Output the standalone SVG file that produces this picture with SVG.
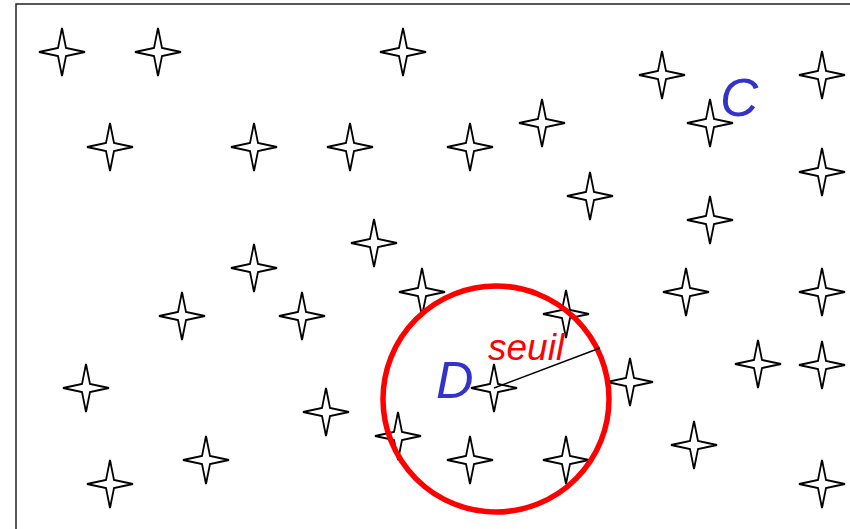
<svg xmlns="http://www.w3.org/2000/svg" xmlns:xlink="http://www.w3.org/1999/xlink" width="850" height="529" viewBox="0 0 850 529">
<style>
.star{fill:#fff;stroke:#000;stroke-width:1.8;stroke-linejoin:miter}
.lbl{font-family:"Liberation Sans",Arial,sans-serif;font-style:italic}
</style>
<defs>
<path id="s" class="star" d="M0,-24 L4,-4 L23,0 L4,4 L0,24 L-4,4 L-23,0 L-4,-4 Z"/>
</defs>
<rect width="850" height="529" fill="#fff"/>
<rect x="16" y="4" width="900" height="600" fill="none" stroke="#222" stroke-width="1.5"/>
<g id="stars">
<g id="n1"><use xlink:href="#s" x="62" y="52"/></g>
<g id="n2"><use xlink:href="#s" x="158" y="52"/></g>
<g id="n3"><use xlink:href="#s" x="403" y="52"/></g>
<g id="n4"><use xlink:href="#s" x="662" y="75"/></g>
<g id="n5"><use xlink:href="#s" x="822" y="75"/></g>
<g id="n6"><use xlink:href="#s" x="110" y="147"/></g>
<g id="n7"><use xlink:href="#s" x="254" y="147"/></g>
<g id="n8"><use xlink:href="#s" x="350" y="147"/></g>
<g id="n9"><use xlink:href="#s" x="470" y="147"/></g>
<g id="n10"><use xlink:href="#s" x="542" y="123"/></g>
<g id="n11"><use xlink:href="#s" x="710" y="123"/></g>
<g id="n12"><use xlink:href="#s" x="822" y="172"/></g>
<g id="n13"><use xlink:href="#s" x="590" y="196"/></g>
<g id="n14"><use xlink:href="#s" x="710" y="220"/></g>
<g id="n15"><use xlink:href="#s" x="374" y="243"/></g>
<g id="n16"><use xlink:href="#s" x="254" y="268"/></g>
<g id="n17"><use xlink:href="#s" x="422" y="292"/></g>
<g id="n18"><use xlink:href="#s" x="686" y="292"/></g>
<g id="n19"><use xlink:href="#s" x="822" y="292"/></g>
<g id="n20"><use xlink:href="#s" x="182" y="316"/></g>
<g id="n21"><use xlink:href="#s" x="302" y="316"/></g>
<g id="n22"><use xlink:href="#s" x="566" y="314"/></g>
<g id="n23"><use xlink:href="#s" x="86" y="388"/></g>
<g id="n24"><use xlink:href="#s" x="494" y="388"/></g>
<g id="n25"><use xlink:href="#s" x="630" y="382"/></g>
<g id="n26"><use xlink:href="#s" x="758" y="364"/></g>
<g id="n27"><use xlink:href="#s" x="822" y="365"/></g>
<g id="n28"><use xlink:href="#s" x="326" y="412"/></g>
<g id="n29"><use xlink:href="#s" x="398" y="436"/></g>
<g id="n30"><use xlink:href="#s" x="206" y="460"/></g>
<g id="n31"><use xlink:href="#s" x="470" y="460"/></g>
<g id="n32"><use xlink:href="#s" x="566" y="460"/></g>
<g id="n33"><use xlink:href="#s" x="694" y="445"/></g>
<g id="n34"><use xlink:href="#s" x="110" y="484"/></g>
<g id="n35"><use xlink:href="#s" x="822" y="484"/></g>
</g>
<g id="connectors">
<circle cx="496" cy="399" r="113" fill="none" stroke="#f00" stroke-width="5.5"/>
<line x1="494" y1="388" x2="600" y2="348" stroke="#000" stroke-width="1.5"/>
</g>
<g id="labels">
<text class="lbl" x="720" y="116" font-size="53" fill="#3333cc">C</text>
<text class="lbl" x="436" y="398" font-size="52" fill="#3333cc">D</text>
<text class="lbl" x="488" y="360" font-size="37" fill="#f00">seuil</text>
</g>
</svg>
